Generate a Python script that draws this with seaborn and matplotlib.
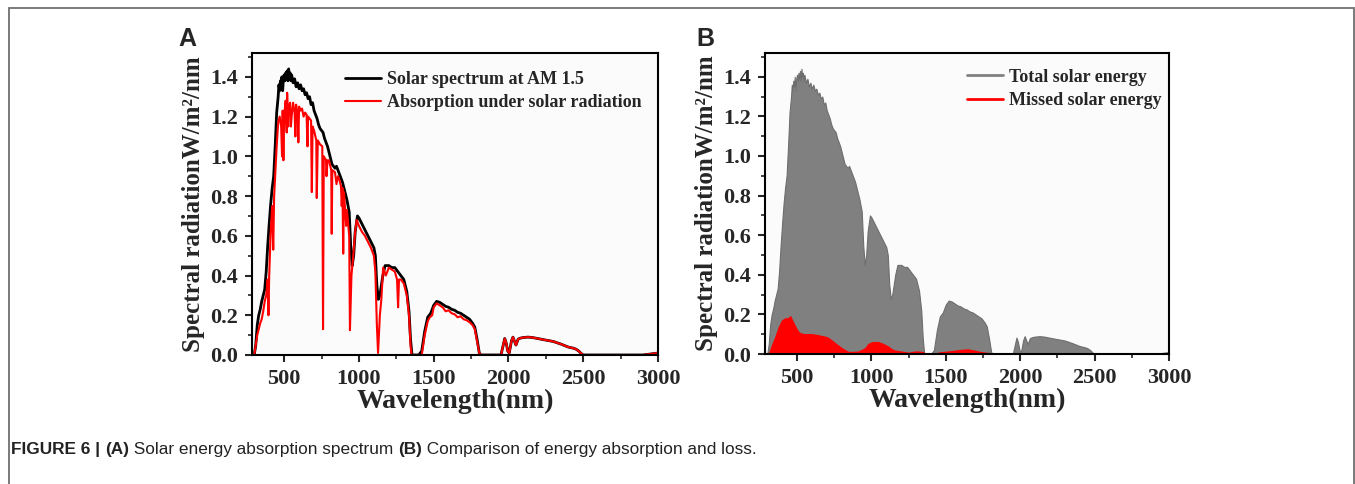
import matplotlib
matplotlib.use('Agg')
import matplotlib.pyplot as plt
from matplotlib.lines import Line2D
from matplotlib.patches import Rectangle
from matplotlib.ticker import MultipleLocator, AutoMinorLocator, FormatStrFormatter
import pandas as pd
import seaborn as sns

# AM 1.5 solar spectrum (black line in A, grey area in B)
wl_sun = [280, 300, 310, 320, 330, 340, 350, 360, 370, 380, 390, 400, 410, 420, 430,
          440, 450, 455, 460, 465, 470, 475, 480, 485, 490, 495, 500, 505, 510, 515,
          520, 525, 530, 535, 540, 545, 550, 560, 570, 580, 590, 600, 610, 620, 630,
          640, 650, 660, 670, 680, 690, 700, 710, 720, 730, 740, 750, 760, 770, 780,
          790, 800, 810, 820, 830, 840, 850, 860, 870, 880, 890, 900, 910, 920, 935,
          945, 955, 965, 975, 990, 1000, 1020, 1040, 1060, 1080,
          1100, 1110, 1120, 1130, 1140, 1160, 1175, 1200, 1220, 1240, 1260, 1280,
          1300, 1320, 1335, 1345, 1355, 1400, 1420, 1440, 1460, 1480, 1500, 1520,
          1540, 1560, 1580, 1600, 1620, 1640, 1660, 1680, 1700, 1720, 1740, 1760,
          1775, 1790, 1805, 1815, 1950, 1965, 1975, 1985, 1995, 2005, 2020, 2030,
          2040, 2050, 2065, 2080, 2100, 2130, 2160, 2200, 2250, 2300, 2350, 2400,
          2430, 2450, 2470, 2490, 2500, 2900, 2950, 3000]
sun = [0.0, 0.0, 0.05, 0.15, 0.20, 0.23, 0.27, 0.30, 0.33, 0.42, 0.55, 0.66, 0.76, 0.84, 0.90,
       1.05, 1.22, 1.26, 1.30, 1.36, 1.33, 1.38, 1.35, 1.40, 1.33, 1.39, 1.41, 1.38, 1.42, 1.39,
       1.43, 1.38, 1.44, 1.40, 1.42, 1.38, 1.41, 1.37, 1.39, 1.35, 1.37, 1.34, 1.36, 1.33, 1.34,
       1.31, 1.32, 1.29, 1.30, 1.26, 1.27, 1.23, 1.21, 1.19, 1.16, 1.14, 1.13, 1.12, 1.09, 1.07,
       1.05, 1.02, 0.99, 0.96, 0.95, 0.94, 0.95, 0.93, 0.91, 0.89, 0.87, 0.84, 0.81, 0.78, 0.72,
       0.55, 0.45, 0.50, 0.62, 0.70, 0.69, 0.66, 0.63, 0.60, 0.57,
       0.54, 0.50, 0.35, 0.28, 0.30, 0.40, 0.45, 0.45, 0.44, 0.44, 0.42, 0.40,
       0.38, 0.32, 0.22, 0.08, 0.0, 0.0, 0.02, 0.12, 0.19, 0.21, 0.25, 0.27,
       0.265, 0.255, 0.245, 0.24, 0.23, 0.225, 0.215, 0.21, 0.20, 0.19, 0.18, 0.16,
       0.14, 0.08, 0.01, 0.0, 0.0, 0.05, 0.083, 0.06, 0.02, 0.01, 0.07, 0.09,
       0.07, 0.05, 0.08, 0.085, 0.088, 0.09, 0.088, 0.082, 0.075, 0.068, 0.055, 0.04,
       0.035, 0.03, 0.02, 0.005, 0.0, 0.0, 0.005, 0.01]

# absorption under solar radiation (red line in A) up to 1815 nm; beyond that it follows the sun curve
wl_abs = [280, 300, 320, 340, 350, 360, 370, 380, 390, 395, 400, 410, 420, 427, 433,
          440, 450, 460, 470, 480, 486, 490, 495, 500, 510, 517, 520, 527, 530, 540,
          545, 550, 560, 570, 575, 580, 590, 595, 600, 610, 620, 630, 640, 650, 656,
          660, 670, 680, 685, 690, 700, 715, 718, 725, 740, 755, 760, 765, 780, 783,
          790, 800, 815, 818, 822, 840, 850, 860, 870, 880, 885, 890, 895, 900, 915,
          920, 935, 940, 950, 960, 975, 985, 1000, 1020, 1040, 1060, 1080, 1100, 1110,
          1120, 1128, 1140, 1150, 1162, 1180, 1200, 1220, 1240, 1255, 1262, 1268, 1280,
          1300, 1320, 1335, 1345, 1352, 1420, 1440, 1460, 1474, 1490, 1500, 1520,
          1540, 1560, 1580, 1600, 1620, 1640, 1660, 1680, 1700, 1720, 1740, 1760,
          1775, 1790, 1805, 1815]
absorbed = [0.0, 0.0, 0.10, 0.16, 0.18, 0.22, 0.27, 0.30, 0.38, 0.20, 0.40, 0.62, 0.75, 0.53, 0.80,
            0.90, 1.05, 1.17, 1.20, 1.15, 1.00, 1.23, 0.98, 1.20, 1.28, 1.12, 1.32, 1.15, 1.25, 1.27,
            1.15, 1.20, 1.27, 1.22, 1.10, 1.26, 1.21, 1.07, 1.25, 1.23, 1.24, 1.20, 1.22, 1.21, 1.05,
            1.20, 1.19, 1.18, 0.82, 1.15, 1.13, 1.08, 0.79, 1.08, 1.06, 1.05, 0.13, 1.00, 0.98, 0.90,
            0.98, 0.98, 0.93, 0.61, 0.93, 0.92, 0.86, 0.90, 0.88, 0.85, 0.75, 0.84, 0.51, 0.82, 0.65,
            0.73, 0.60, 0.125, 0.40, 0.48, 0.62, 0.68, 0.65, 0.62, 0.60, 0.57, 0.54, 0.50, 0.42,
            0.15, 0.01, 0.20, 0.28, 0.44, 0.40, 0.44, 0.43, 0.42, 0.38, 0.24, 0.38, 0.38,
            0.36, 0.30, 0.20, 0.05, 0.0, 0.0, 0.10, 0.17, 0.19, 0.20, 0.24, 0.26,
            0.25, 0.24, 0.22, 0.225, 0.21, 0.205, 0.19, 0.195, 0.18, 0.175, 0.165, 0.15,
            0.13, 0.07, 0.01, 0.0]

# missed solar energy (red area in B)
wl_miss = [280, 311, 330, 355, 380, 400, 422, 440, 455, 470, 489, 505, 522, 550, 600,
           640, 667, 700, 730, 756, 790, 820, 846, 880, 912, 935, 960, 979, 1000, 1020,
           1046, 1080, 1113, 1140, 1158, 1200, 1250, 1291, 1320, 1350, 1360, 1420, 1460,
           1514, 1560, 1600, 1648, 1690, 1737, 1780, 1815, 3000]
missed = [0.0, 0.0, 0.04, 0.087, 0.14, 0.17, 0.18, 0.18, 0.19, 0.165, 0.137, 0.115, 0.104, 0.10, 0.10,
          0.095, 0.09, 0.085, 0.07, 0.054, 0.035, 0.02, 0.01, 0.01, 0.012, 0.02, 0.03, 0.05, 0.058, 0.06,
          0.06, 0.05, 0.037, 0.022, 0.017, 0.012, 0.006, 0.012, 0.012, 0.008, 0.0, 0.0, 0.008,
          0.012, 0.016, 0.02, 0.023, 0.017, 0.009, 0.005, 0.002, 0.002]

sun_df = pd.DataFrame({'wl': wl_sun, 'val': sun})
abs_df = pd.concat([pd.DataFrame({'wl': wl_abs, 'val': absorbed}),
                    sun_df[sun_df['wl'] > 1815]], ignore_index=True)
miss_df = pd.DataFrame({'wl': wl_miss, 'val': missed})

sns.set_style('ticks')
plt.rcParams['font.family'] = ['Liberation Serif', 'DejaVu Serif']
plt.rcParams['font.weight'] = 'bold'
plt.rcParams['axes.labelweight'] = 'bold'

fig = plt.figure(figsize=(13.55, 4.84), dpi=100)
W, H = 1355, 484
axA = fig.add_axes([252 / W, 1 - 355 / H, 406 / W, 302 / H])
axB = fig.add_axes([765 / W, 1 - 354 / H, 404 / W, 301 / H])

# panel A
sns.lineplot(data=sun_df, x='wl', y='val', ax=axA, color='black', lw=2.0,
             estimator=None, sort=False, label='Solar spectrum at AM 1.5')
sns.lineplot(data=abs_df, x='wl', y='val', ax=axA, color='red', lw=1.5,
             estimator=None, sort=False, label='Absorption under solar radiation')

# panel B
axB.fill_between(sun_df['wl'], sun_df['val'], color='#808080', edgecolor='#6e6e6e', lw=0.8)
axB.fill_between(miss_df['wl'], miss_df['val'], color='red', edgecolor='red', lw=1.0)

leg_prop = {'family': 'Liberation Serif', 'weight': 'bold', 'size': 13}
axA.legend(loc='upper left', bbox_to_anchor=(0.229, 0.94), frameon=False, prop=leg_prop,
           borderpad=0, borderaxespad=0, handlelength=2.0, handletextpad=0.3, labelspacing=0.35)
handles = [Line2D([], [], color='#808080', lw=2), Line2D([], [], color='red', lw=2)]
axB.legend(handles, ['Total solar energy', 'Missed solar energy'], loc='upper left',
           bbox_to_anchor=(0.5, 0.948), frameon=False, prop=leg_prop,
           borderpad=0, borderaxespad=0, handlelength=2.0, handletextpad=0.3, labelspacing=0.35)

for ax in (axA, axB):
    ax.set_facecolor('#fbfbfb')
    ax.set_xlim(285, 3000)
    ax.set_ylim(0, 1.52)
    ax.xaxis.set_major_locator(MultipleLocator(500))
    ax.yaxis.set_major_locator(MultipleLocator(0.2))
    ax.xaxis.set_minor_locator(AutoMinorLocator(2))
    ax.yaxis.set_minor_locator(AutoMinorLocator(2))
    ax.yaxis.set_major_formatter(FormatStrFormatter('%.1f'))
    ax.tick_params(which='major', direction='out', length=5, width=1.5, labelsize=16, pad=5)
    ax.tick_params(which='minor', direction='out', length=3, width=1.2)
    for lab in ax.get_xticklabels() + ax.get_yticklabels():
        lab.set_fontweight('bold')
    for sp in ax.spines.values():
        sp.set_linewidth(1.5)
        sp.set_color('black')
    ax.set_xlabel('Wavelength(nm)', fontsize=20, fontweight='bold', labelpad=0)
    ax.set_ylabel('Spectral radiationW/m²/nm', fontsize=18, fontweight='bold', labelpad=4)

fig.text(178 / W, 1 - 46 / H, 'A', family='Liberation Sans', weight='bold', fontsize=18)
fig.text(696 / W, 1 - 46 / H, 'B', family='Liberation Sans', weight='bold', fontsize=18)

# caption, built piece by piece
pieces = [('FIGURE 6 | ', 'bold'), ('(A)', 'bold'), (' Solar energy absorption spectrum ', 'normal'),
          ('(B)', 'bold'), (' Comparison of energy absorption and loss.', 'normal')]
renderer = fig.canvas.get_renderer()
x = 11
for txt, wt in pieces:
    t = fig.text(x / W, 1 - 454 / H, txt, family='Liberation Sans', weight=wt, fontsize=12.4,
                 color='#222222', va='baseline')
    x += t.get_window_extent(renderer).width

# outer frame
fig.add_artist(Rectangle((9 / W, -0.05), 1345 / W, 1.05 - 8 / H, transform=fig.transFigure,
                         fill=False, edgecolor='#707070', lw=1.3))

fig.savefig('out.png', dpi=100)
